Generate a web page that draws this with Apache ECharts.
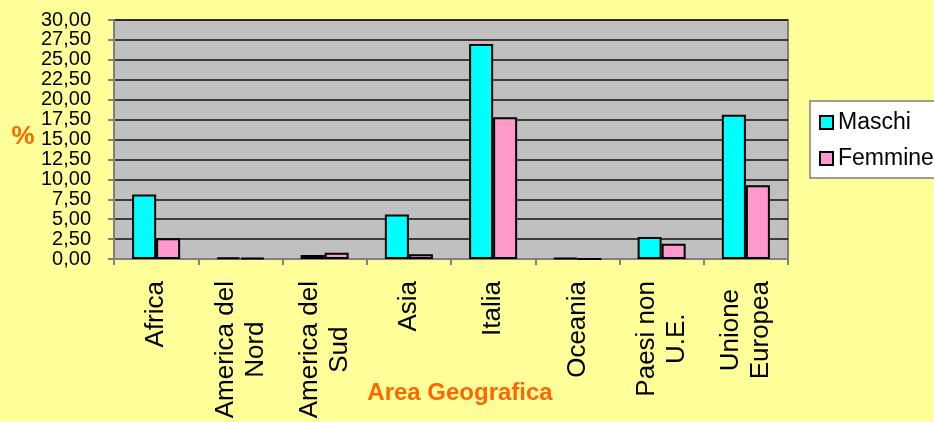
<!DOCTYPE html>
<html><head><meta charset="utf-8">
<script src="https://cdn.jsdelivr.net/npm/echarts@6/dist/echarts.min.js"></script>
<style>html,body{margin:0;padding:0;background:#FFFF99;}#c{width:934px;height:422px;}</style>
</head><body><div id="c"></div>
<script>
const categories = ["Africa", "America del\nNord", "America del\nSud", "Asia", "Italia", "Oceania", "Paesi non\nU.E.", "Unione\nEuropea"];
const maschi = [8.1, 0.2, 0.5, 5.6, 27.0, 0.1, 2.75, 18.1];
const femmine = [2.6, 0.15, 0.8, 0.6, 17.8, 0, 1.9, 9.25];
const yTicks = [0, 2.5, 5, 7.5, 10, 12.5, 15, 17.5, 20, 22.5, 25, 27.5, 30];

const chart = echarts.init(document.getElementById('c'));
const fontFam = 'Arial, "Liberation Sans", sans-serif';
chart.setOption({
  backgroundColor: '#FFFF99',
  animation: false,
  grid: { left: 114, right: 146, top: 20, bottom: 163, show: true, backgroundColor: '#C0C0C0', borderColor: '#808080', borderWidth: 2 },
  legend: {
    orient: 'vertical', left: 810, top: 101,
    padding: [10, 10, 10, 9], itemGap: 13, itemWidth: 13, itemHeight: 13,
    icon: 'rect',
    textStyle: { fontFamily: fontFam, fontSize: 23, color: '#000' },
    data: ['Maschi', 'Femmine']
  },
  xAxis: {
    type: 'category', data: categories,
    axisLine: { show: true, lineStyle: { color: '#808080', width: 2 } },
    axisTick: { show: true, alignWithLabel: false, length: 6, lineStyle: { color: '#808080', width: 2 } },
    axisLabel: {
      interval: 0, rotate: 90, margin: 22, color: '#000',
      fontFamily: fontFam, fontSize: 26, lineHeight: 30,
      formatter: v => v.split('\n').map(l => '{c|' + l + '}').join('\n'),
      rich: { c: { align: 'center', fontFamily: fontFam, fontSize: 26, lineHeight: 30, color: '#000' } }
    }
  },
  yAxis: {
    type: 'value', min: 0, max: 30, interval: 2.5,
    axisLine: { show: true, lineStyle: { color: '#808080', width: 2 } },
    axisTick: { show: true, length: 6, lineStyle: { color: '#808080', width: 2 } },
    splitLine: { show: true, lineStyle: { color: '#111', width: 1.5 } },
    axisLabel: {
      margin: 23, color: '#000', fontFamily: fontFam, fontSize: 20,
      formatter: v => yTicks.indexOf(v) >= 0 ? v.toFixed(2).replace('.', ',') : ''
    }
  },
  series: [
    { name: 'Maschi', type: 'bar', data: maschi, barGap: '0%', barCategoryGap: '43%',
      itemStyle: { color: '#00FFFF', borderColor: '#000', borderWidth: 2 } },
    { name: 'Femmine', type: 'bar', data: femmine, barGap: '0%', barCategoryGap: '43%',
      itemStyle: { color: '#FF99CC', borderColor: '#000', borderWidth: 2 } }
  ],
  graphic: [
    { type: 'rect', z: -1, shape: { x: 810, y: 101, width: 200, height: 77 },
      style: { fill: '#FFFFFF', stroke: '#808080', lineWidth: 1.5 } },
    { type: 'text', x: 23, y: 137, style: { text: '%', fill: '#FF6600', font: 'bold 26px ' + fontFam, align: 'center', verticalAlign: 'middle' } },
    { type: 'text', x: 460, y: 393, style: { text: 'Area Geografica', fill: '#FF6600', font: 'bold 24px ' + fontFam, align: 'center', verticalAlign: 'middle' } }
  ]
});
</script></body></html>
